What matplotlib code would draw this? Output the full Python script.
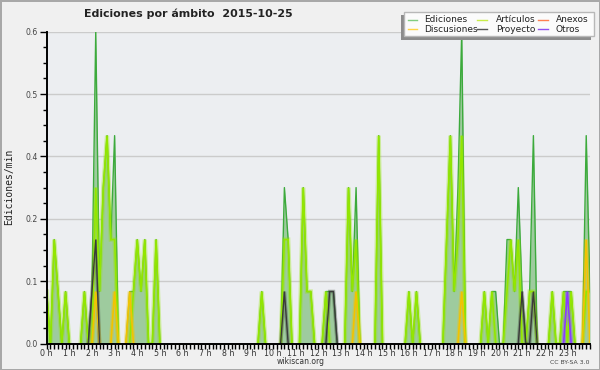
import numpy as np
import matplotlib
matplotlib.use("Agg")
import matplotlib.pyplot as plt
from matplotlib.patches import Rectangle
from matplotlib.lines import Line2D
from matplotlib.ticker import FixedLocator, MultipleLocator

# ---- data: edits per minute, 10-minute bins from 00:00 to 24:00 ----
hour_labels = [f"{h} h" for h in range(24)]
series_names = ["Ediciones", "Artículos", "Anexos", "Discusiones", "Proyecto", "Otros"]

ediciones = [
    0.1, 0, 0.2, 0.1, 0, 0.1,   0, 0, 0, 0, 0.1, 0,
    0.1, 0.6, 0.1, 0.3, 0.4, 0.2,   0.4, 0, 0, 0, 0.1, 0.1,
    0.2, 0.1, 0.2, 0, 0, 0.2,   0, 0, 0, 0, 0, 0,
    0, 0, 0, 0, 0, 0,   0, 0, 0, 0, 0, 0,
    0, 0, 0, 0, 0, 0,   0, 0, 0, 0.1, 0, 0,
    0, 0, 0, 0.3, 0.2, 0,   0, 0, 0.3, 0.1, 0.1, 0,
    0, 0, 0.1, 0.1, 0.1, 0,   0, 0, 0.3, 0.1, 0.3, 0,
    0, 0, 0, 0, 0.4, 0,   0, 0, 0, 0, 0, 0,
    0.1, 0, 0.1, 0, 0, 0,   0, 0, 0, 0, 0.2, 0.4,
    0.1, 0.3, 0.6, 0, 0, 0,   0, 0, 0.1, 0, 0.1, 0.1,
    0, 0, 0.2, 0.2, 0.1, 0.3,   0.1, 0, 0.1, 0.4, 0, 0,
    0, 0, 0.1, 0, 0, 0.1,   0.1, 0.1, 0, 0, 0, 0.4,
    0.1,
]
articulos = [
    0.1, 0, 0.2, 0.1, 0, 0.1,   0, 0, 0, 0, 0.1, 0,
    0, 0.3, 0.1, 0.3, 0.4, 0.2,   0.2, 0, 0, 0, 0, 0.1,
    0.2, 0.1, 0.2, 0, 0, 0.2,   0, 0, 0, 0, 0, 0,
    0, 0, 0, 0, 0, 0,   0, 0, 0, 0, 0, 0,
    0, 0, 0, 0, 0, 0,   0, 0, 0, 0.1, 0, 0,
    0, 0, 0, 0.2, 0.2, 0,   0, 0, 0.3, 0.1, 0.1, 0,
    0, 0, 0.1, 0, 0, 0,   0, 0, 0.3, 0.1, 0.2, 0,
    0, 0, 0, 0, 0.4, 0,   0, 0, 0, 0, 0, 0,
    0.1, 0, 0.1, 0, 0, 0,   0, 0, 0, 0, 0.2, 0.4,
    0.1, 0.2, 0.4, 0, 0, 0,   0, 0, 0.1, 0, 0.1, 0,
    0, 0, 0.1, 0.2, 0.1, 0.2,   0, 0, 0.1, 0.1, 0, 0,
    0, 0, 0.1, 0, 0, 0.1,   0, 0.1, 0, 0, 0, 0.1,
    0.1,
]
discusiones = [
    0, 0, 0, 0, 0, 0,   0, 0, 0, 0, 0, 0,
    0, 0.1, 0, 0, 0, 0,   0.1, 0, 0, 0, 0.1, 0,
    0, 0, 0, 0, 0, 0,   0, 0, 0, 0, 0, 0,
    0, 0, 0, 0, 0, 0,   0, 0, 0, 0, 0, 0,
    0, 0, 0, 0, 0, 0,   0, 0, 0, 0, 0, 0,
    0, 0, 0, 0, 0, 0,   0, 0, 0, 0, 0, 0,
    0, 0, 0, 0, 0, 0,   0, 0, 0, 0, 0.1, 0,
    0, 0, 0, 0, 0, 0,   0, 0, 0, 0, 0, 0,
    0, 0, 0, 0, 0, 0,   0, 0, 0, 0, 0, 0,
    0, 0, 0.1, 0, 0, 0,   0, 0, 0, 0, 0, 0,
    0, 0, 0, 0, 0, 0,   0, 0, 0, 0, 0, 0,
    0, 0, 0, 0, 0, 0,   0, 0, 0, 0, 0, 0.2,
    0,
]
proyecto = [
    0, 0, 0, 0, 0, 0,   0, 0, 0, 0, 0, 0,
    0.1, 0.2, 0, 0, 0, 0,   0, 0, 0, 0, 0, 0,
    0, 0, 0, 0, 0, 0,   0, 0, 0, 0, 0, 0,
    0, 0, 0, 0, 0, 0,   0, 0, 0, 0, 0, 0,
    0, 0, 0, 0, 0, 0,   0, 0, 0, 0, 0, 0,
    0, 0, 0, 0.1, 0, 0,   0, 0, 0, 0, 0, 0,
    0, 0, 0, 0.1, 0.1, 0,   0, 0, 0, 0, 0, 0,
    0, 0, 0, 0, 0, 0,   0, 0, 0, 0, 0, 0,
    0, 0, 0, 0, 0, 0,   0, 0, 0, 0, 0, 0,
    0, 0, 0, 0, 0, 0,   0, 0, 0, 0, 0, 0,
    0, 0, 0, 0, 0, 0,   0.1, 0, 0, 0.1, 0, 0,
    0, 0, 0, 0, 0, 0,   0, 0, 0, 0, 0, 0,
    0,
]
anexos = [
    0, 0, 0, 0, 0, 0,   0, 0, 0, 0, 0, 0,
    0, 0, 0, 0, 0, 0,   0, 0, 0, 0, 0, 0,
    0, 0, 0, 0, 0, 0,   0, 0, 0, 0, 0, 0,
    0, 0, 0, 0, 0, 0,   0, 0, 0, 0, 0, 0,
    0, 0, 0, 0, 0, 0,   0, 0, 0, 0, 0, 0,
    0, 0, 0, 0, 0, 0,   0, 0, 0, 0, 0, 0,
    0, 0, 0, 0, 0, 0,   0, 0, 0, 0, 0, 0,
    0, 0, 0, 0, 0, 0,   0, 0, 0, 0, 0, 0,
    0, 0, 0, 0, 0, 0,   0, 0, 0, 0, 0, 0,
    0, 0, 0, 0, 0, 0,   0, 0, 0, 0, 0, 0,
    0, 0, 0, 0, 0, 0,   0, 0, 0, 0, 0, 0,
    0, 0, 0, 0, 0, 0,   0, 0, 0, 0, 0, 0,
    0,
]
otros = [
    0, 0, 0, 0, 0, 0,   0, 0, 0, 0, 0, 0,
    0, 0, 0, 0, 0, 0,   0, 0, 0, 0, 0, 0,
    0, 0, 0, 0, 0, 0,   0, 0, 0, 0, 0, 0,
    0, 0, 0, 0, 0, 0,   0, 0, 0, 0, 0, 0,
    0, 0, 0, 0, 0, 0,   0, 0, 0, 0, 0, 0,
    0, 0, 0, 0, 0, 0,   0, 0, 0, 0, 0, 0,
    0, 0, 0, 0, 0, 0,   0, 0, 0, 0, 0, 0,
    0, 0, 0, 0, 0, 0,   0, 0, 0, 0, 0, 0,
    0, 0, 0, 0, 0, 0,   0, 0, 0, 0, 0, 0,
    0, 0, 0, 0, 0, 0,   0, 0, 0, 0, 0, 0,
    0, 0, 0, 0, 0, 0,   0, 0, 0, 0, 0, 0,
    0, 0, 0, 0, 0, 0,   0.1, 0, 0, 0, 0, 0,
    0,
]

# ---- style ----
W, H = 600, 370
FIG_BG = "#f0f0f0"
AX_BG = "#eceef1"

fig = plt.figure(figsize=(W / 100, H / 100), dpi=100, facecolor=FIG_BG)
fig.patch.set_edgecolor("#a8a8a8")
fig.patch.set_linewidth(2)

left, right, bottom, top = 46.7, 590.0, 343.5, 31.7
ax = fig.add_axes([left / W, 1 - bottom / H, (right - left) / W, (bottom - top) / H])
ax.set_facecolor(AX_BG)

x = np.arange(len(ediciones)) / 6.0


def masked(vals):
    v = np.asarray(vals, dtype=float)
    prev = np.r_[0.0, v[:-1]]
    nxt = np.r_[v[1:], 0.0]
    return np.ma.masked_where((v == 0) & (prev == 0) & (nxt == 0), v)


tot = np.asarray(ediciones, dtype=float)
ax.fill_between(x, 0, tot, color="#9ecb9e", lw=0, zorder=2)
ax.plot(x, masked(ediciones), color="#3caa3c", lw=1.0, zorder=3)

styles = [
    (articulos, "#93e600", 1.2),
    (anexos, "#ff7a45", 1.2),
    (discusiones, "#f2c300", 1.2),
    (proyecto, "#3a3a3a", 1.0),
    (otros, "#8a3cff", 1.2),
]
for vals, col, lw in styles:
    mv = masked(vals)
    ax.plot(x, mv, color=col, lw=lw * 2.6, alpha=0.35, zorder=3.5,
            solid_joinstyle="miter")
    ax.plot(x, mv, color=col, lw=lw, zorder=4, solid_joinstyle="miter")

# axes
ax.set_xlim(0, 24)
ax.set_ylim(0, 0.6)
yt = np.linspace(0, 0.6, 6)
ax.yaxis.set_major_locator(FixedLocator(yt))
ax.set_yticklabels([f"{v:.1f}" for v in yt])
ax.yaxis.set_minor_locator(MultipleLocator(0.03))
ax.xaxis.set_major_locator(FixedLocator(np.arange(24)))
ax.set_xticklabels(hour_labels)
ax.xaxis.set_minor_locator(MultipleLocator(1 / 6))

ax.tick_params(axis="y", which="major", length=5, width=1, direction="out",
               labelsize=5.6, labelcolor="#444444", pad=1.5)
ax.tick_params(axis="y", which="minor", length=3, width=1, direction="out")
ax.tick_params(axis="x", which="both", length=3.5, width=1, direction="out",
               labelsize=5.7, labelcolor="#333333", pad=0.2)

for s in ("top", "right"):
    ax.spines[s].set_visible(False)
for s in ("left", "bottom"):
    ax.spines[s].set_linewidth(1.4)
    ax.spines[s].set_color("black")
    ax.spines[s].set_zorder(10)

for v in yt[1:]:
    ax.axhline(v, color="#cbcbcb", lw=1.0, zorder=1)

ax.set_ylabel("Ediciones/min", family="DejaVu Sans Mono", fontsize=7,
              color="#222222")
ax.yaxis.set_label_coords(14.5 / W, 1 - 187 / H, transform=fig.transFigure)

fig.text(188.5 / W, 1 - 14 / H, "Ediciones por ámbito  2015-10-25",
         ha="center", va="center", fontsize=7.9, fontweight="bold",
         color="#222222")
fig.text(301 / W, 1 - 361.5 / H, "wikiscan.org", ha="center", va="center",
         fontsize=5.5, color="#333333")
fig.text(590 / W, 1 - 362.5 / H, "CC BY-SA 3.0", ha="right", va="center",
         fontsize=4.4, color="#444444")

# ---- legend (pixel layout as in the reference) ----
def fx(px):
    return px / W


def fy(py):
    return 1 - py / H


fig.patches.append(Rectangle((fx(401), fy(40)), fx(591) - fx(401), fy(15) - fy(40),
                             transform=fig.transFigure, facecolor="#8c8c8c",
                             edgecolor="none", zorder=5))
fig.patches.append(Rectangle((fx(404), fy(36)), fx(594) - fx(404), fy(12.3) - fy(36),
                             transform=fig.transFigure, facecolor="#fbfbfb",
                             edgecolor="#b8b8b8", lw=1, zorder=6))
legend_colors = ["#80cc80", "#c8ec48", "#ff8050", "#ffd445", "#555555", "#9050f0"]
line_x = [(408, 417), (477, 487), (538, 548)]
text_x = [424, 496, 556]
row_y = [19.5, 29.0]
for k, (name, col) in enumerate(zip(series_names, legend_colors)):
    c, r = k % 3, k // 3
    x0, x1 = line_x[c]
    fig.lines.append(Line2D([fx(x0), fx(x1)], [fy(row_y[r]), fy(row_y[r])],
                            transform=fig.transFigure, color=col, lw=1, zorder=7))
    fig.text(fx(text_x[c]), fy(row_y[r]), name, ha="left", va="center",
             fontsize=6.5, color="#222222", zorder=7)

fig.savefig("out.png", dpi=100, facecolor=fig.get_facecolor(),
            edgecolor=fig.get_edgecolor())
